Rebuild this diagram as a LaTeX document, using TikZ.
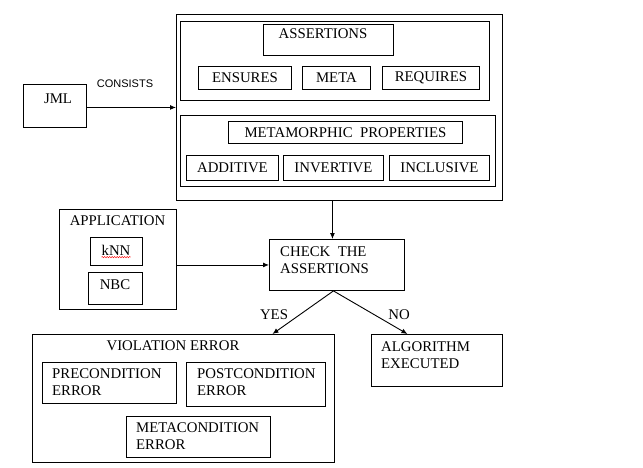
\documentclass[tikz,border=0pt]{standalone}
\usepackage{fontspec}
\setmainfont{Liberation Serif}
\newfontfamily\labelsans{Liberation Sans}
\usetikzlibrary{arrows.meta,decorations.pathmorphing}
\tikzset{
  rbox/.style={draw, line width=0.9pt, inner sep=0pt, anchor=north west},
  txt/.style={inner sep=0pt, font=\fontsize{14.8}{16.8}\selectfont, align=left},
  arr/.style={line width=0.9pt, -{Latex[length=6pt,width=5pt]}},
  lbl/.style={inner sep=0pt, font=\fontsize{14.8}{16.8}\selectfont},
  sanslbl/.style={inner sep=0pt, font=\labelsans\fontsize{11}{12}\selectfont},
}
\begin{document}
\begin{tikzpicture}[x=1pt,y=-1pt]
\useasboundingbox (0,0) rectangle (643,467);
% top big container
\node[rbox, minimum width=326pt, minimum height=186pt] (outer) at (176,14) {};
\node[rbox, minimum width=309pt, minimum height=79pt] (assgrp) at (180,21) {};
\node[rbox, minimum width=130pt, minimum height=31pt] (ass) at (263,24) {};
\node[txt] (assT) at (323,34) {ASSERTIONS};
\node[rbox, minimum width=93pt, minimum height=23pt] (ens) at (198,66) {};
\node[txt] (ensT) at (ens.center) {ENSURES};
\node[rbox, minimum width=68pt, minimum height=23pt] (meta) at (302,66) {};
\node[txt] (metaT) at (meta.center) {META};
\node[rbox, minimum width=97pt, minimum height=23pt] (req) at (382,66) {};
\node[txt] (reqT) at (req.center) {REQUIRES};
\node[rbox, minimum width=315pt, minimum height=71pt] (metgrp) at (180,115) {};
\node[rbox, minimum width=234pt, minimum height=22pt] (metp) at (228,121) {};
\node[txt] (metpT) at (metp.center) {METAMORPHIC\ \ PROPERTIES};
\node[rbox, minimum width=92pt, minimum height=25pt] (add) at (186,155) {};
\node[txt] (addT) at (add.center) {ADDITIVE};
\node[rbox, minimum width=100pt, minimum height=25pt] (inv) at (283,155) {};
\node[txt] (invT) at (inv.center) {INVERTIVE};
\node[rbox, minimum width=100pt, minimum height=25pt] (inc) at (389,155) {};
\node[txt] (incT) at (inc.center) {INCLUSIVE};
% JML
\node[rbox, minimum width=63pt, minimum height=43pt] (jml) at (23,84) {};
\node[txt] (jmlT) at (58,99) {JML};
\node[sanslbl] (cons) at (125,84) {CONSISTS};
\draw[arr] ([yshift=-1.5pt]jml.east) -- ([yshift=-1.5pt]jml.east -| outer.west);
% application
\node[rbox, minimum width=117pt, minimum height=100pt] (app) at (59,209) {};
\node[txt] (appT) at (117.5,220.5) {APPLICATION};
\node[rbox, minimum width=52pt, minimum height=28pt] (knn) at (90,237) {};
\node[txt] (knnT) at (116,250) {kNN};
\draw[red, line width=0.4pt, decorate, decoration={snake, amplitude=0.7pt, segment length=2.5pt}] ([yshift=-1.8pt]knnT.south west) -- ([yshift=-1.8pt]knnT.south east);
\node[rbox, minimum width=54pt, minimum height=32pt] (nbc) at (88,272) {};
\node[txt] (nbcT) at (115,285) {NBC};
% check
\node[rbox, minimum width=135pt, minimum height=51pt] (check) at (269,239) {};
\node[txt, anchor=north west] (checkT) at (280,246.4) {CHECK\ \ THE\\ASSERTIONS};
\draw[arr] ([xshift=-4.5pt]check.north |- outer.south) -- ([xshift=-4.5pt]check.north);
\draw[arr] (check.west -| app.east) -- (check.west);
% violation
\node[rbox, minimum width=302pt, minimum height=128pt] (viol) at (32,334) {};
\node[txt] (violT) at (173,346) {VIOLATION ERROR};
\node[rbox, minimum width=134pt, minimum height=41pt] (pre) at (42,362) {};
\node[txt, anchor=north west] (preT) at (52,368.4) {PRECONDITION\\ERROR};
\node[rbox, minimum width=139pt, minimum height=44pt] (post) at (186,362) {};
\node[txt, anchor=north west] (postT) at (197,368.4) {POSTCONDITION\\ERROR};
\node[rbox, minimum width=144pt, minimum height=41pt] (mc) at (126,416) {};
\node[txt, anchor=north west] (mcT) at (136,422.4) {METACONDITION\\ERROR};
% algorithm
\node[rbox, minimum width=131pt, minimum height=52pt] (alg) at (371,334) {};
\node[txt, anchor=north west] (algT) at (381,341.4) {ALGORITHM\\EXECUTED};
% decisions
\draw[arr] ([xshift=-3.5pt]check.south) -- ([xshift=89pt]viol.north);
\draw[arr] ([xshift=-3.5pt]check.south) -- ([xshift=-29.5pt]alg.north);
\node[lbl] (yes) at (274,315) {YES};
\node[lbl] (no) at (399,315) {NO};
\end{tikzpicture}
\end{document}
